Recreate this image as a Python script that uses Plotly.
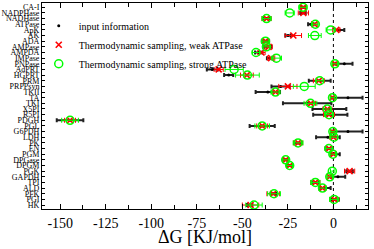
import plotly.graph_objects as go

categories = ["CA-I", "NADPHase", "NADHase", "ATPase", "ApK", "AK", "ADA", "AMPase", "AMPDA",
              "IMPase", "PNPase", "AdPRT", "HGPRT", "PRM", "PRPPsyn", "TKII", "TA", "TKI",
              "X5PI", "R5PI", "PDGH", "PGL", "G6PDH", "LDH", "PK", "EN", "PGM", "DPGase",
              "DPGM", "PGK", "GAPDH", "TPI", "ALD", "PFK", "PGI", "HK"]

input_dg = [-16.5, -16.7, -36.7, -12.4, 3.5, -24.9, -37.3, -36.0, -41.0, -35.0, 6.0, -66.5,
            -57.5, -7.5, -29.0, -36.0, 8.0, -14.4, -2.2, -1.7, -144.6, -39.1, 8.0, -3.0,
            -19.4, -2.4, 1.0, -26.0, -24.0, 8.9, 2.5, -9.9, -4.5, -33.0, 1.0, -46.0]
input_err = [1.5, 1.5, 2.0, 1.5, 2.5, 1.5, 2.0, 2.0, 2.0, 1.5, 4.5, 3.0, 2.5, 6.0, 5.0, 6.7,
             8.0, 13.3, 9.3, 9.4, 7.3, 6.9, 8.0, 6.5, 2.0, 2.0, 2.5, 1.5, 1.5, 1.8, 4.0, 2.0,
             3.0, 1.5, 2.0, 1.5]

weak_dg = [-16.5, -16.5, -36.7, -10.4, 1.6, -22.0, -37.3, -35.6, -39.5, -34.2, 1.0, -63.0,
           -47.5, -8.0, -25.0, -31.8, -0.5, -12.4, -3.3, -2.4, -144.6, -39.1, -0.5, 0.0,
           -19.4, -2.4, 0.0, -26.2, -24.0, 8.9, -2.0, -9.9, -6.0, -33.0, 0.5, -45.5]
weak_err = [1.5, 2.8, 2.5, 1.5, 2.0, 4.5, 2.0, 2.0, 2.0, 2.0, 1.5, 2.5, 3.5, 3.0, 5.0, 1.5,
            1.2, 2.5, 2.5, 3.0, 3.0, 3.0, 1.2, 2.0, 2.5, 2.0, 1.5, 1.5, 1.5, 2.8, 1.5, 2.5,
            2.0, 3.5, 2.5, 4.5]

strong_dg = [-16.7, -24.0, -36.7, -9.9, -1.5, -10.2, -37.3, -36.8, -42.5, -31.3, 0.8, -54.5,
             -47.2, -7.5, -16.0, -31.8, -0.5, -12.6, -3.4, -2.4, -144.6, -39.1, -0.3, 0.3,
             -19.4, -2.5, -0.3, -26.2, -24.0, -0.6, -2.0, -9.9, -6.0, -32.6, 0.4, -43.6]
strong_err = [2.2, 2.5, 2.5, 1.5, 2.5, 3.5, 2.0, 2.0, 2.0, 2.8, 1.5, 5.0, 6.5, 2.0, 6.0, 2.5,
              1.2, 3.5, 2.0, 2.5, 4.6, 4.0, 1.2, 2.0, 2.7, 2.0, 1.5, 1.5, 1.5, 1.0, 1.5, 2.5,
              2.0, 3.5, 2.5, 4.5]

x_ticks = [-150, -125, -100, -75, -50, -25, 0]
x_ticklabels = ["-150", "-125", "-100", "-75", "-50", "-25", "0"]
x_title = "ΔG [KJ/mol]"

GREEN = "#00ff00"
FONT = "Liberation Serif"

fig = go.Figure()
fig.add_trace(go.Scatter(
    x=input_dg, y=categories, mode="markers", name="input information",
    marker=dict(symbol="circle", size=3, color="black"),
    error_x=dict(type="data", array=input_err, color="#222222", thickness=2, width=2),
))
fig.add_trace(go.Scatter(
    x=weak_dg, y=categories, mode="markers", name="Thermodynamic sampling, weak ATPase",
    marker=dict(symbol="x-thin", size=6, color="red", line=dict(width=1.6, color="red")),
    error_x=dict(type="data", array=weak_err, color="red", thickness=1, width=2.5),
))
fig.add_trace(go.Scatter(
    x=strong_dg, y=categories, mode="markers", name="Thermodynamic sampling, strong ATPase",
    marker=dict(symbol="circle-open", size=8, color=GREEN, line=dict(width=1.5, color=GREEN)),
    error_x=dict(type="data", array=strong_err, color=GREEN, thickness=1, width=2.5),
))

fig.add_shape(type="line", xref="x", yref="paper", x0=0, x1=0, y0=0, y1=1,
              line=dict(color="black", width=1, dash="dot"), layer="below")

fig.add_annotation(text=x_title, xref="paper", yref="paper", x=0.5, y=-0.135,
                   xanchor="center", yanchor="middle", showarrow=False,
                   font=dict(family=FONT, size=18, color="black"))

fig.update_layout(
    width=374, height=249,
    margin=dict(l=42, r=6, t=3, b=40, autoexpand=False),
    paper_bgcolor="white", plot_bgcolor="white",
    font=dict(family=FONT, color="black"),
    showlegend=True,
    legend=dict(x=-0.01, y=0.96, xanchor="left", yanchor="top",
                bgcolor="rgba(0,0,0,0)", borderwidth=0,
                font=dict(family=FONT, size=10, color="black"),
                itemwidth=30),
    xaxis=dict(
        range=[-160, 19], tickmode="array", tickvals=x_ticks, ticktext=x_ticklabels,
        ticks="inside", ticklen=5, tickcolor="black", tickwidth=1,
        minor=dict(dtick=12.5, tick0=0, ticks="inside", ticklen=4, tickcolor="black"),
        showline=True, linecolor="black", linewidth=1, mirror="ticks",
        showgrid=False, zeroline=False, ticklabelstandoff=1, automargin=False,
        tickfont=dict(family=FONT, size=14, color="black"),
    ),
    yaxis=dict(
        type="category", categoryorder="array", categoryarray=categories,
        range=[35.7, -0.76], tickmode="array", tickvals=categories, ticktext=categories,
        ticks="inside", ticklen=3, tickcolor="black", tickwidth=1,
        showline=True, linecolor="black", linewidth=1, mirror="ticks",
        showgrid=False, zeroline=False, automargin=False,
        tickfont=dict(family=FONT, size=8, color="black"),
    ),
)

fig.write_html("out.html", config={"displayModeBar": False},
               post_script="document.body.style.margin='0px';document.body.style.overflow='hidden';")
